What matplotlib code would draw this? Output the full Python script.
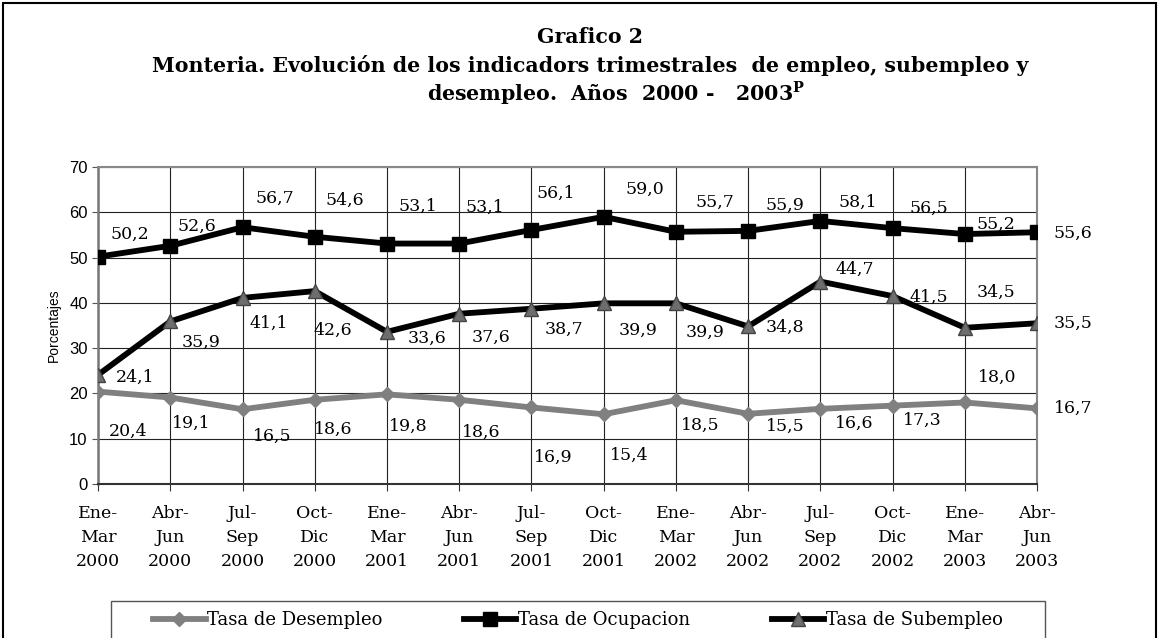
import matplotlib.pyplot as plt
from matplotlib.patches import Rectangle

# datos
periodos = ["Ene-\nMar\n2000", "Abr-\nJun\n2000", "Jul-\nSep\n2000", "Oct-\nDic\n2000",
            "Ene-\nMar\n2001", "Abr-\nJun\n2001", "Jul-\nSep\n2001", "Oct-\nDic\n2001",
            "Ene-\nMar\n2002", "Abr-\nJun\n2002", "Jul-\nSep\n2002", "Oct-\nDic\n2002",
            "Ene-\nMar\n2003", "Abr-\nJun\n2003"]
desempleo = [20.4, 19.1, 16.5, 18.6, 19.8, 18.6, 16.9, 15.4, 18.5, 15.5, 16.6, 17.3, 18.0, 16.7]
ocupacion = [50.2, 52.6, 56.7, 54.6, 53.1, 53.1, 56.1, 59.0, 55.7, 55.9, 58.1, 56.5, 55.2, 55.6]
subempleo = [24.1, 35.9, 41.1, 42.6, 33.6, 37.6, 38.7, 39.9, 39.9, 34.8, 44.7, 41.5, 34.5, 35.5]

# posicion de las etiquetas (offset en pixeles)
off_ocup = [(32, 22), (27, 19), (32, 29), (30, 36), (31, 37), (26, 36), (24, 37),
            (41, 28), (39, 29), (37, 26), (37, 19), (36, 20), (31, 10), (36, -1)]
off_sub = [(37, -2), (31, -21), (26, -25), (18, -39), (40, -6), (32, -24), (33, -21),
           (34, -27), (29, -29), (37, -1), (34, 12), (36, -1), (31, 35), (36, 0)]
off_des = [(30, -40), (21, -26), (30, -27), (18, -30), (21, -32), (22, -33), (22, -50),
           (26, -41), (24, -25), (37, -13), (34, -15), (30, -15), (32, 25), (36, 0)]

serif = "DejaVu Serif"
x = list(range(len(periodos)))

fig = plt.figure(figsize=(11.59, 6.38), dpi=100)
ax = fig.add_axes([0.0846, 0.2414, 0.8102, 0.4968])

ax.plot(x, desempleo, color="#808080", lw=4.2, marker="D", ms=7.5,
        mfc="#808080", mec="#808080", label="Tasa de Desempleo", zorder=3)
ax.plot(x, ocupacion, color="black", lw=4.2, marker="s", ms=10,
        mfc="black", mec="black", label="Tasa de Ocupacion", zorder=3)
ax.plot(x, subempleo, color="black", lw=4.2, marker="^", ms=10,
        mfc="#6e6e6e", mec="#444444", mew=1, label="Tasa de Subempleo", zorder=4)

for serie, offs in [(ocupacion, off_ocup), (subempleo, off_sub), (desempleo, off_des)]:
    for i, v in enumerate(serie):
        ax.annotate(f"{v:.1f}".replace(".", ","), (x[i], v), xytext=offs[i],
                    textcoords="offset pixels", ha="center", va="center",
                    fontsize=12.5, family=serif, zorder=5)

ax.set_xlim(0, len(periodos) - 1)
ax.set_ylim(0, 70)
ax.set_yticks(range(0, 71, 10))
ax.set_xticks(x)
ax.set_xticklabels(periodos, family=serif, fontsize=12.5, linespacing=1.55)
ax.tick_params(axis="y", labelsize=12, length=4, color="#555555")
ax.tick_params(axis="x", length=5, color="#333333", pad=10)
for lab in ax.get_yticklabels():
    lab.set_family("Liberation Sans")
ax.set_ylabel("Porcentajes", family="Liberation Sans", fontsize=10, labelpad=6)
ax.grid(True, color="#222222", lw=0.8)
ax.set_axisbelow(True)
for s in ["top", "right"]:
    ax.spines[s].set_color("#888888")
    ax.spines[s].set_linewidth(1.5)
ax.spines["left"].set_color("#777777")
ax.spines["left"].set_linewidth(1.8)
ax.spines["bottom"].set_color("#333333")
ax.spines["bottom"].set_linewidth(1.5)

# titulo
tfont = dict(family=serif, weight="bold", fontsize=14.8, ha="center", va="center")
fig.text(590 / 1159, 1 - 37 / 638, "Grafico 2", **tfont)
fig.text(590 / 1159, 1 - 65 / 638,
         "Monteria. Evolución de los indicadors trimestrales  de empleo, subempleo y", **tfont)
fig.text(616 / 1159, 1 - 93 / 638, "desempleo.  Años  2000 -   2003$^{\\mathregular{P}}$", **tfont)

# leyenda
leg = fig.legend(loc="center", bbox_to_anchor=(578 / 1159, 1 - 620 / 638),
                 ncol=3, frameon=False, prop={"family": serif, "size": 13},
                 handlelength=2.9, handletextpad=0.1, columnspacing=4.5,
                 borderaxespad=0)
fig.patches.append(Rectangle((111 / 1159, -0.01), (1045 - 111) / 1159, 1 - 601 / 638 + 0.01,
                             transform=fig.transFigure, fill=False,
                             edgecolor="#555555", lw=1.0))

fig.patches.append(Rectangle((0.003, -0.01), 0.994, 1.006, transform=fig.transFigure,
                             fill=False, edgecolor="black", lw=1.5))

fig.savefig("out.png", dpi=100)
